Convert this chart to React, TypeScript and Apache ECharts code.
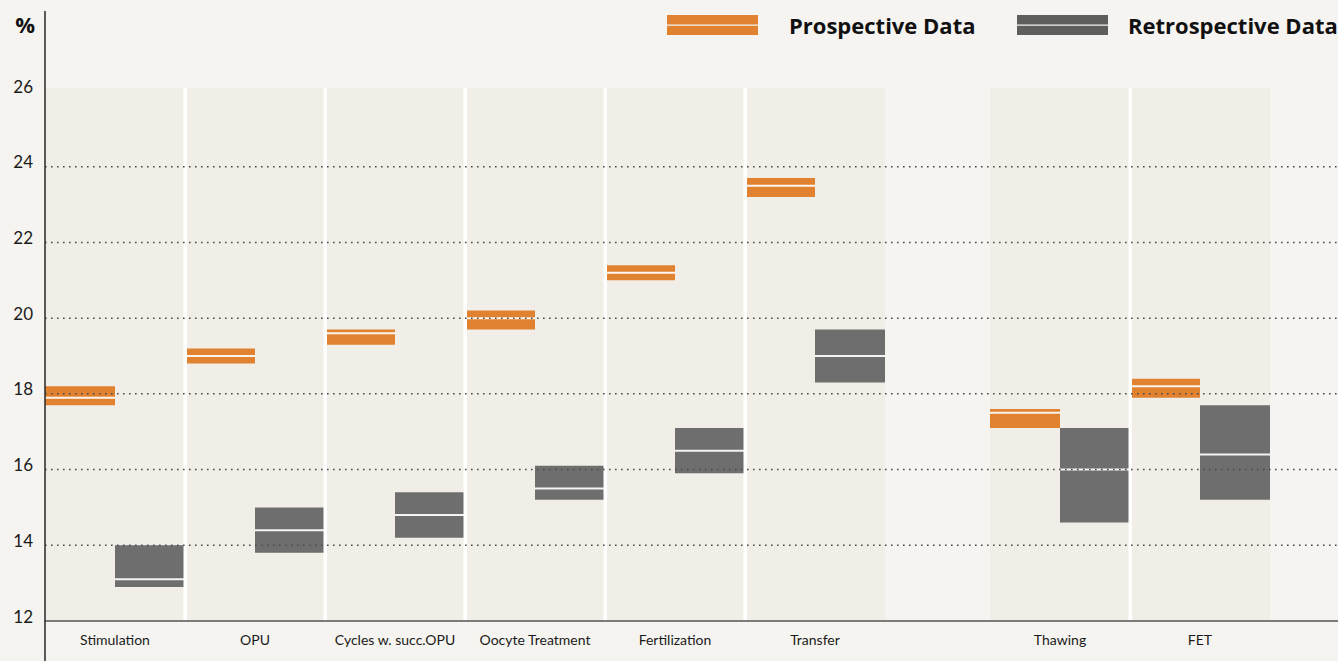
import React, { useEffect, useRef } from "react";
import * as echarts from "echarts";

const categories = ["Stimulation", "OPU", "Cycles w. succ.OPU", "Oocyte Treatment", "Fertilization", "Transfer", "Thawing", "FET"];
const categoryPos = [0, 1, 2, 3, 4, 5, 6.75, 7.75];

const prospLow = [17.7, 18.8, 19.3, 19.7, 21.0, 23.2, 17.1, 17.9];
const prospHigh = [18.2, 19.2, 19.7, 20.2, 21.4, 23.7, 17.6, 18.4];
const prospMid = [17.9, 19.0, 19.6, 20.0, 21.2, 23.5, 17.5, 18.2];

const retroLow = [12.9, 13.8, 14.2, 15.2, 15.9, 18.3, 14.6, 15.2];
const retroHigh = [14.0, 15.0, 15.4, 16.1, 17.1, 19.7, 17.1, 17.7];
const retroMid = [13.1, 14.4, 14.8, 15.5, 16.5, 19.0, 16.0, 16.4];

const gridValues = [14, 16, 18, 20, 22, 24];
const Y_MIN = 12;
const Y_MAX = 26;
const BAND_TOP = 26.08;

const ORANGE = "#e08230";
const GRAY = "#6e6e6e";
const BG = "#f5f4f0";
const BAND = "#f1eee8";

function boxRender(color: string) {
  return (params: any, api: any) => {
    const x0 = api.value(0);
    const x1 = api.value(1);
    const lo = api.value(2);
    const hi = api.value(3);
    const mid = api.value(4);
    const p0 = api.coord([x0, hi]);
    const p1 = api.coord([x1, lo]);
    const pm = api.coord([x0, mid]);
    return {
      type: "group",
      children: [
        { type: "rect", shape: { x: p0[0], y: p0[1], width: p1[0] - p0[0], height: p1[1] - p0[1] }, style: { fill: color } },
        { type: "line", shape: { x1: p0[0], y1: pm[1], x2: p1[0], y2: pm[1] }, style: { stroke: "#ffffff", lineWidth: 2, opacity: 0.92 } },
      ],
    };
  };
}

export default function App() {
  const ref = useRef<HTMLDivElement>(null);
  useEffect(() => {
    document.body.style.margin = "0";
    document.body.style.background = BG;
    const chart = echarts.init(ref.current!, null, { renderer: "svg" });

    const prospData = categoryPos.map((p, i) => [p, p + 0.5, prospLow[i], prospHigh[i], prospMid[i]]);
    const retroData = categoryPos.map((p, i) => [p + 0.5, p + 1, retroLow[i], retroHigh[i], retroMid[i]]);
    const bandData = categoryPos.map((p) => [p, p + 1]);
    const sepData = categoryPos.filter((p, i) => i > 0 && categoryPos[i - 1] + 1 === p).map((p) => [p]);
    const centers = categoryPos.map((p) => p + 0.5);

    const legendText = { fontFamily: "Open Sans", fontWeight: "bold", fontSize: 22, color: "#111" };

    chart.setOption({
      animation: false,
      backgroundColor: BG,
      textStyle: { fontFamily: "Lato" },
      grid: { left: 45, right: 0, top: 91, bottom: 40, containLabel: false },
      legend: [
        {
          left: 662, top: 9, itemWidth: 91, itemHeight: 20, selectedMode: false,
          data: [{ name: "Prospective Data", icon: "path://M0,0H91V9.4H0Z M0,10.8H91V20H0Z", itemStyle: { color: ORANGE } }],
          textStyle: { ...legendText, padding: [0, 0, 0, 26] },
        },
        {
          left: 1012, top: 9, itemWidth: 91, itemHeight: 20, selectedMode: false,
          data: [{ name: "Retrospective Data", icon: "path://M0,0H91V9.4H0Z M0,10.8H91V20H0Z", itemStyle: { color: "#5e5e5d" } }],
          textStyle: { ...legendText, padding: [0, 0, 0, 15] },
        },
      ],
      xAxis: {
        type: "value", min: 0, max: 1293 / 140, z: 10,
        axisLine: { show: true, lineStyle: { color: "#555", width: 1.5 } },
        axisTick: { show: false },
        splitLine: { show: false },
        axisLabel: {
          show: true,
          customValues: centers,
          margin: 11,
          fontFamily: "Lato", fontSize: 14, color: "#1a1a1a",
          formatter: (v: number) => {
            let best = 0;
            centers.forEach((c, i) => { if (Math.abs(c - v) < Math.abs(centers[best] - v)) best = i; });
            return categories[best];
          },
        },
      },
      yAxis: {
        type: "value", min: Y_MIN, max: Y_MAX, interval: 2,
        name: "%", nameLocation: "end", nameGap: 67,
        nameTextStyle: { fontFamily: "Open Sans", fontWeight: "bold", fontSize: 22, color: "#111", align: "right", verticalAlign: "middle", padding: [0, 10, 0, 0] },
        axisLine: { show: false },
        axisTick: { show: false },
        splitLine: { show: false },
        axisLabel: { margin: 12, fontFamily: "Lato", fontSize: 17, color: "#1a1a1a", verticalAlign: "bottom", lineHeight: 10 },
      },
      graphic: [
        { type: "line", shape: { x1: 45, y1: 11, x2: 45, y2: 661 }, style: { stroke: "#333", lineWidth: 1.6 }, z: 100 },
      ],
      series: [
        {
          type: "custom", name: "bands", z: 1, silent: true,
          data: bandData,
          encode: { x: [0, 1] },
          renderItem: (params: any, api: any) => {
            const a = api.coord([api.value(0), BAND_TOP]);
            const b = api.coord([api.value(1), Y_MIN]);
            return { type: "rect", shape: { x: a[0], y: a[1], width: b[0] - a[0], height: b[1] - a[1] }, style: { fill: BAND } };
          },
        },
        {
          type: "custom", name: "Prospective Data", z: 2,
          itemStyle: { color: ORANGE },
          data: prospData, encode: { x: [0, 1], y: [2, 3, 4] },
          renderItem: boxRender(ORANGE),
        },
        {
          type: "custom", name: "Retrospective Data", z: 2,
          itemStyle: { color: GRAY },
          data: retroData, encode: { x: [0, 1], y: [2, 3, 4] },
          renderItem: boxRender(GRAY),
        },
        {
          type: "custom", name: "separators", z: 3, silent: true,
          data: sepData, encode: { x: 0 },
          renderItem: (params: any, api: any) => {
            const a = api.coord([api.value(0), BAND_TOP]);
            const b = api.coord([api.value(0), Y_MIN]);
            return { type: "rect", shape: { x: a[0] - 1.5, y: a[1], width: 3.5, height: b[1] - a[1] }, style: { fill: "#ffffff" } };
          },
        },
        {
          type: "custom", name: "grid", z: 4, silent: true,
          data: gridValues.map((v) => [0, v]), encode: { y: 1 },
          renderItem: (params: any, api: any) => {
            const cs = params.coordSys;
            const p = api.coord([0, api.value(1)]);
            return { type: "line", shape: { x1: cs.x, y1: p[1], x2: cs.x + cs.width, y2: p[1] }, style: { stroke: "#4a4a4a", lineWidth: 1.5, lineDash: [1.6, 4.4] } };
          },
        },
      ],
    });
    return () => chart.dispose();
  }, []);
  return <div ref={ref} style={{ width: 1338, height: 661 }} />;
}
